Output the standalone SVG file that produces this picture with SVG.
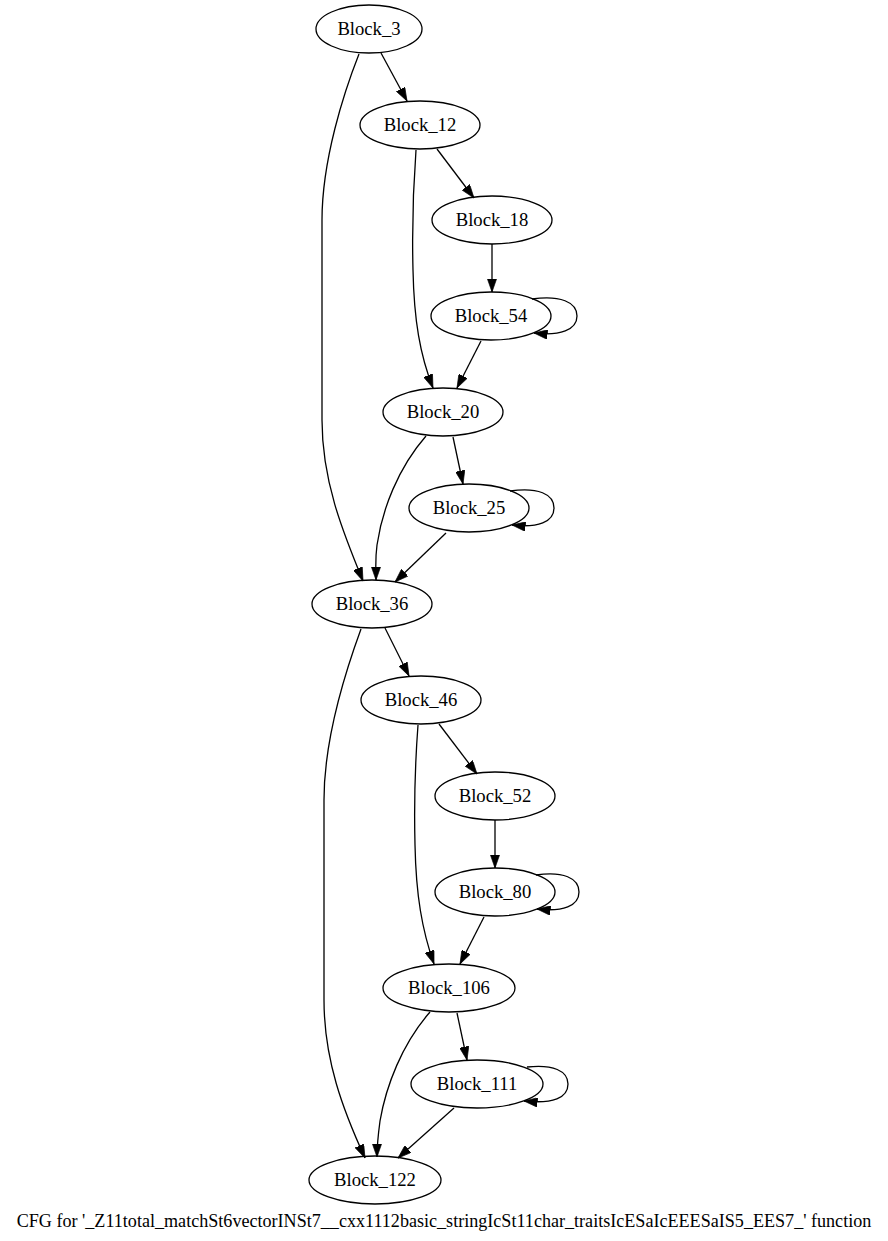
<svg xmlns="http://www.w3.org/2000/svg" width="888" height="1241" viewBox="0 0 888 1241">
  <style>
    .node ellipse { fill: none; stroke: #000; stroke-width: 1.3; }
    .node text { font-family: "Liberation Serif", "Times New Roman", serif; font-size: 18.67px; text-anchor: middle; fill: #000; }
    .edges path { fill: none; stroke: #000; stroke-width: 1.3; marker-end: url(#arrow); }
    .title { font-family: "Liberation Serif", "Times New Roman", serif; font-size: 18.1px; text-anchor: middle; fill: #000; }
  </style>
  <defs>
    <marker id="arrow" viewBox="0 0 10 7" markerWidth="13.5" markerHeight="9.5" refX="10" refY="3.5" orient="auto" markerUnits="userSpaceOnUse">
      <path d="M0,0 L10,3.5 L0,7 z" fill="#000" stroke="#000" stroke-width="0.5"/>
    </marker>
  </defs>
  <rect width="888" height="1241" fill="#fff"/>

  <g class="edges">
    <!-- Block_3 -> Block_12 -->
    <path d="M381,53 L407,101"/>
    <!-- Block_3 -> Block_36 -->
    <path d="M359,54 C344,92 322,160 322,220 L322,420 C322,480 342,530 363,581"/>
    <!-- Block_12 -> Block_18 -->
    <path d="M437,149 L474,198"/>
    <!-- Block_12 -> Block_20 -->
    <path d="M416,150 C413,190 412,230 413,270 C414,320 420,355 433,388"/>
    <!-- Block_18 -> Block_54 -->
    <path d="M492,244 L492,292"/>
    <!-- Block_54 -> Block_54 -->
    <path d="M532,299 C560,295 577,302 577,316 C577,330 560,336 534,333"/>
    <!-- Block_54 -> Block_20 -->
    <path d="M481,341 L457,388"/>
    <!-- Block_20 -> Block_25 -->
    <path d="M453,437 L463,484"/>
    <!-- Block_20 -> Block_36 -->
    <path d="M426,436 C398,468 382,510 377,545 C375,560 376,570 376,580"/>
    <!-- Block_25 -> Block_25 -->
    <path d="M510,491 C538,487 554,494 554,508 C554,522 538,528 512,525"/>
    <!-- Block_25 -> Block_36 -->
    <path d="M446,533 L395,582"/>
    <!-- Block_36 -> Block_46 -->
    <path d="M385,628 L409,676"/>
    <!-- Block_36 -> Block_122 -->
    <path d="M361,629 C346,670 324,740 324,800 L324,1000 C324,1060 343,1110 365,1158"/>
    <!-- Block_46 -> Block_52 -->
    <path d="M439,724 L477,774"/>
    <!-- Block_46 -> Block_106 -->
    <path d="M418,725 C415,765 414,805 415,845 C416,895 422,930 434,964"/>
    <!-- Block_52 -> Block_80 -->
    <path d="M495,820 L495,868"/>
    <!-- Block_80 -> Block_80 -->
    <path d="M536,875 C563,871 579,878 579,892 C579,906 563,912 537,909"/>
    <!-- Block_80 -> Block_106 -->
    <path d="M484,917 L460,964"/>
    <!-- Block_106 -> Block_111 -->
    <path d="M457,1013 L467,1060"/>
    <!-- Block_106 -> Block_122 -->
    <path d="M430,1012 C402,1044 386,1086 380,1121 C378,1136 377,1146 377,1157"/>
    <!-- Block_111 -> Block_111 -->
    <path d="M527,1067 C553,1064 568,1071 568,1084 C568,1098 553,1104 524,1101"/>
    <!-- Block_111 -> Block_122 -->
    <path d="M454,1108 L398,1158"/>
  </g>

  <g id="Block_3" class="node"><ellipse cx="369" cy="29" rx="53" ry="24"/><text x="369" y="35">Block_3</text></g>
  <g id="Block_12" class="node"><ellipse cx="420" cy="125" rx="60" ry="24"/><text x="420" y="131">Block_12</text></g>
  <g id="Block_18" class="node"><ellipse cx="492" cy="220" rx="60" ry="24"/><text x="492" y="226">Block_18</text></g>
  <g id="Block_54" class="node"><ellipse cx="491" cy="316" rx="60" ry="24"/><text x="491" y="322">Block_54</text></g>
  <g id="Block_20" class="node"><ellipse cx="443" cy="412" rx="60" ry="24"/><text x="443" y="418">Block_20</text></g>
  <g id="Block_25" class="node"><ellipse cx="469" cy="508" rx="60" ry="24"/><text x="469" y="514">Block_25</text></g>
  <g id="Block_36" class="node"><ellipse cx="372" cy="604" rx="60" ry="24"/><text x="372" y="610">Block_36</text></g>
  <g id="Block_46" class="node"><ellipse cx="421" cy="700" rx="60" ry="24"/><text x="421" y="706">Block_46</text></g>
  <g id="Block_52" class="node"><ellipse cx="495" cy="796" rx="60" ry="24"/><text x="495" y="802">Block_52</text></g>
  <g id="Block_80" class="node"><ellipse cx="495" cy="892" rx="60" ry="24"/><text x="495" y="898">Block_80</text></g>
  <g id="Block_106" class="node"><ellipse cx="449" cy="988" rx="66" ry="24"/><text x="449" y="994">Block_106</text></g>
  <g id="Block_111" class="node"><ellipse cx="477" cy="1084" rx="66" ry="24"/><text x="477" y="1090">Block_111</text></g>
  <g id="Block_122" class="node"><ellipse cx="375" cy="1180" rx="66" ry="24"/><text x="375" y="1186">Block_122</text></g>

  <text class="title" x="444" y="1227">CFG for '_Z11total_matchSt6vectorINSt7__cxx1112basic_stringIcSt11char_traitsIcESaIcEEESaIS5_EES7_' function</text>
</svg>
